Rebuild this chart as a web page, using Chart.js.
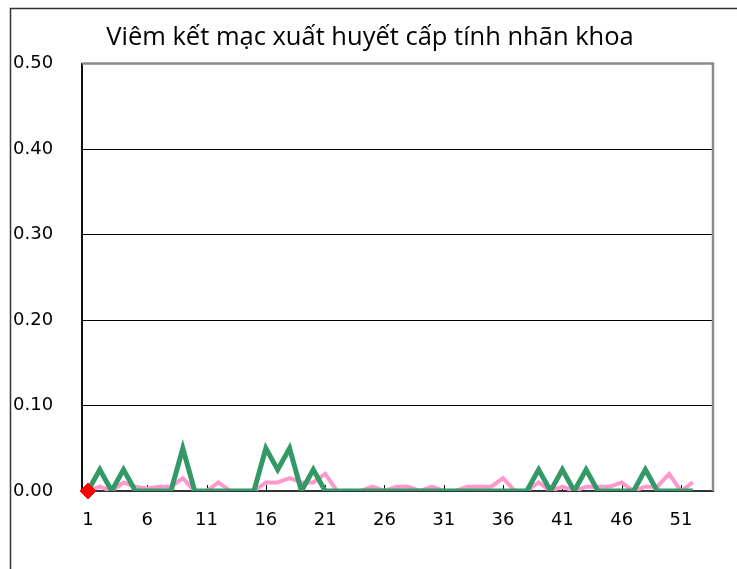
<!DOCTYPE html>
<html lang="vi">
<head>
  <meta charset="UTF-8">
  <title>Viêm kết mạc xuất huyết cấp tính nhãn khoa</title>
  <script src="https://cdn.jsdelivr.net/npm/chart.js"></script>
  <style>
    body { margin: 0; background: #fff; }
    #wrap { width: 737px; height: 569px; }
  </style>
</head>
<body>
  <div id="wrap"><canvas id="chart" width="737" height="569"></canvas></div>

  <script>
    // data
    const weeks = [1,2,3,4,5,6,7,8,9,10,11,12,13,14,15,16,17,18,19,20,21,22,23,24,25,26,
                   27,28,29,30,31,32,33,34,35,36,37,38,39,40,41,42,43,44,45,46,47,48,49,50,51,52];
    const pinkSeries = [0,0.005,0,0.01,0.005,0.003,0.005,0.005,0.015,0,
                        0,0.01,0,0,0,0.01,0.01,0.015,0.01,0.01,
                        0.02,0,0,0,0.005,0,0.005,0.005,0,0.005,
                        0,0,0.005,0.005,0.005,0.015,0,0,0.01,0,
                        0.005,0,0.005,0.005,0.005,0.01,0,0.005,0.005,0.02,
                        0,0.01];
    const greenSeries = [0,0.025,0,0.025,0,0,0,0,0.05,0,
                         0,0,0,0,0,0.05,0.025,0.05,0,0.025,
                         0,0,0,0,0,0,0,0,0,0,
                         0,0,0,0,0,0,0,0,0.025,0,
                         0.025,0,0.025,0,0,0,0,0.025,0,0,
                         0,0];
    const currentWeeks = [1];
    const currentValues = [0];
    const xTicks = [1,6,11,16,21,26,31,36,41,46,51];
    const yTicks = [0,0.1,0.2,0.3,0.4,0.5];

    const toPoints = (xs, ys) => xs.map((x, i) => ({ x, y: ys[i] }));

    // outer frame + grey plot border + small inward ticks
    const frame = {
      id: 'frame',
      beforeDraw(chart) {
        const ctx = chart.ctx;
        ctx.save();
        ctx.strokeStyle = '#333';
        ctx.lineWidth = 1.5;
        ctx.beginPath();
        ctx.moveTo(10.5, 569);
        ctx.lineTo(10.5, 8.5);
        ctx.lineTo(737, 8.5);
        ctx.stroke();
        ctx.restore();
      },
      beforeDatasetsDraw(chart) {
        const { ctx, chartArea: a, scales } = chart;
        ctx.save();
        ctx.strokeStyle = '#8a8a8a';
        ctx.lineWidth = 2.5;
        ctx.beginPath();
        ctx.moveTo(a.left, a.top);
        ctx.lineTo(a.right, a.top);
        ctx.lineTo(a.right, a.bottom);
        ctx.stroke();
        ctx.strokeStyle = '#000';
        ctx.lineWidth = 1;
        scales.x.ticks.forEach(t => {
          const px = Math.round(scales.x.getPixelForValue(t.value)) + 0.5;
          ctx.beginPath();
          ctx.moveTo(px, a.bottom - 6);
          ctx.lineTo(px, a.bottom);
          ctx.stroke();
        });
        ctx.restore();
      }
    };

    new Chart(document.getElementById('chart'), {
      type: 'line',
      data: {
        datasets: [
          { label: 'current', data: toPoints(currentWeeks, currentValues), showLine: false, clip: false,
            backgroundColor: '#ff0000', borderColor: '#ff0000',
            pointStyle: 'rectRot', pointRadius: 8, pointBackgroundColor: '#ff0000',
            pointBorderColor: '#ff0000', pointBorderWidth: 1 },
          { label: 'green', data: toPoints(weeks, greenSeries), borderColor: '#339966',
            borderWidth: 5, pointRadius: 0, tension: 0 },
          { label: 'pink', data: toPoints(weeks, pinkSeries), borderColor: '#ff99cc',
            borderWidth: 4, pointRadius: 0, tension: 0 }
        ]
      },
      options: {
        responsive: false,
        animation: false,
        layout: { padding: { left: 13, right: 10, top: 8, bottom: 0 } },
        plugins: {
          legend: { display: false },
          tooltip: { enabled: false },
          title: {
            display: true,
            text: 'Viêm kết mạc xuất huyết cấp tính nhãn khoa',
            color: '#000',
            font: { family: 'Open Sans', size: 25.5, weight: 'normal', lineHeight: 1.2 },
            padding: { top: 14, bottom: 11 }
          }
        },
        scales: {
          x: {
            type: 'linear',
            min: 0.5,
            max: 53.7,
            afterBuildTicks: axis => { axis.ticks = xTicks.map(v => ({ value: v })); },
            afterFit: axis => { axis.height = 78; },
            grid: { display: false, drawTicks: false },
            border: { display: true, color: '#333', width: 2 },
            ticks: {
              autoSkip: false, maxRotation: 0, padding: 19, color: '#000',
              font: { family: 'DejaVu Sans', size: 18 },
              callback: v => String(v)
            }
          },
          y: {
            min: 0,
            max: 0.5,
            afterBuildTicks: axis => { axis.ticks = yTicks.map(v => ({ value: v })); },
            afterFit: axis => { axis.width = 69; },
            grid: { color: '#000', lineWidth: 1, drawTicks: false },
            border: { display: true, color: '#111', width: 2 },
            ticks: {
              crossAlign: 'far', color: '#000',
              font: { family: 'DejaVu Sans', size: 18 },
              callback: v => v.toFixed(2)
            }
          },
          // empty strip on the right so the plot ends where the original does
          yRight: {
            position: 'right',
            afterFit: axis => { axis.width = 14; },
            grid: { display: false, drawTicks: false },
            border: { display: false },
            ticks: { display: false }
          }
        }
      },
      plugins: [frame]
    });
  </script>
</body>
</html>
